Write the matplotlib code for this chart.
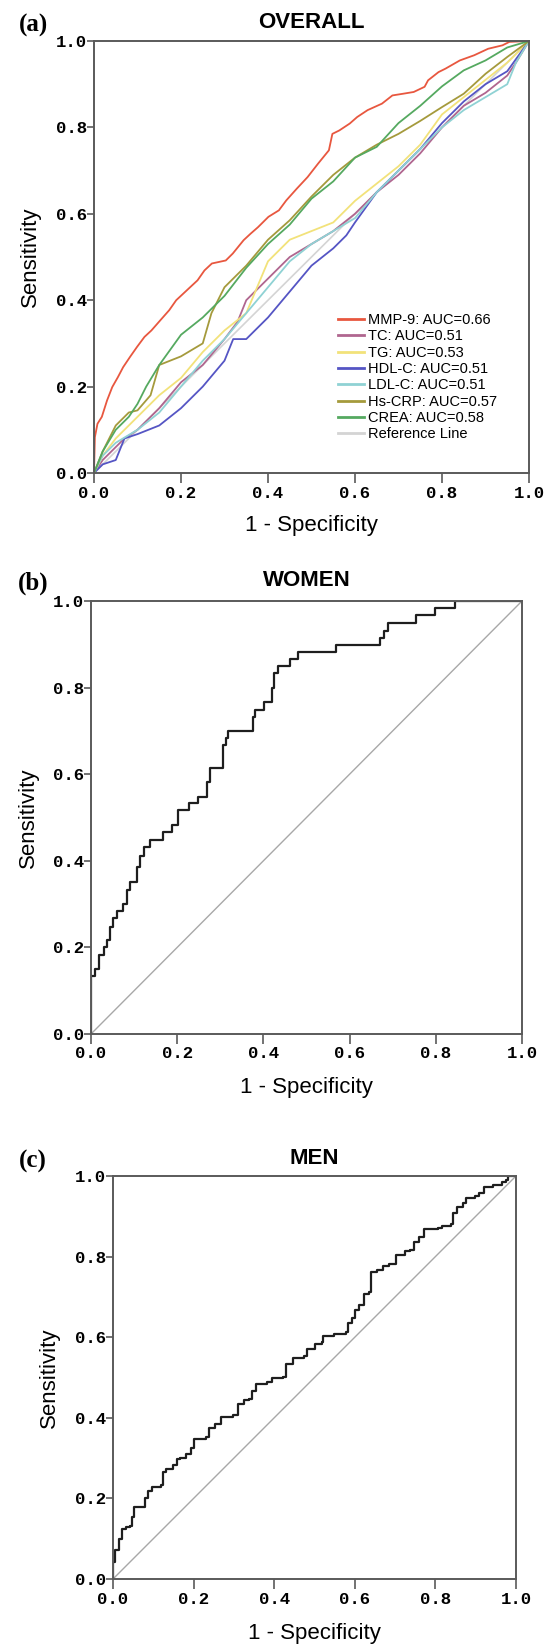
import matplotlib
matplotlib.use("Agg")
import matplotlib.pyplot as plt

# ---- data ----
ticks = [0.0, 0.2, 0.4, 0.6, 0.8, 1.0]
tick_labels = ["0.0", "0.2", "0.4", "0.6", "0.8", "1.0"]

# (a) OVERALL
mmp9_x = [0, .002, .008, .018, .03, .042, .055, .067, .083, .099, .116, .132, .152, .173, .189,
          .205, .222, .238, .254, .271, .303, .319, .344, .36, .377, .401, .425, .442, .466, .491,
          .515, .54, .548, .564, .588, .605, .629, .662, .686, .711, .735, .76, .768, .792, .808,
          .841, .874, .906, .939, .955, 1.0]
mmp9_y = [0, .083, .114, .13, .168, .199, .222, .245, .269, .292, .315, .33, .353, .377, .4,
          .415, .431, .446, .469, .485, .492, .508, .539, .554, .569, .593, .608, .631, .658, .685,
          .716, .747, .785, .793, .809, .824, .84, .855, .874, .878, .882, .894, .909, .928, .936,
          .955, .967, .982, .99, .998, 1.0]

tc_x = [0, .02, .05, .07, .1, .13, .15, .2, .25, .3, .33, .35, .4, .45, .5, .55, .6, .65, .7,
        .75, .8, .85, .9, .95, .97, 1.0]
tc_y = [0, .03, .06, .08, .1, .13, .15, .21, .25, .31, .35, .4, .45, .5, .53, .56, .6, .65, .69,
        .74, .8, .85, .88, .92, .95, 1.0]

tg_x = [0, .02, .05, .1, .12, .15, .2, .25, .3, .35, .4, .45, .5, .55, .57, .6, .65, .7, .75,
        .8, .85, .9, .95, 1.0]
tg_y = [0, .04, .08, .13, .15, .18, .22, .28, .33, .37, .49, .54, .56, .58, .6, .63, .67, .71,
        .76, .83, .87, .91, .95, 1.0]

hdl_x = [0, .02, .05, .07, .1, .15, .2, .25, .3, .32, .35, .4, .45, .5, .55, .58, .6, .65, .7,
         .75, .8, .85, .9, .95, 1.0]
hdl_y = [0, .02, .03, .08, .09, .11, .15, .2, .26, .31, .31, .36, .42, .48, .52, .55, .58, .65,
         .7, .75, .81, .86, .9, .93, 1.0]

ldl_x = [0, .02, .05, .1, .15, .2, .25, .3, .35, .4, .45, .5, .55, .6, .65, .7, .75, .8, .85,
         .9, .95, .97, 1.0]
ldl_y = [0, .04, .07, .1, .14, .2, .26, .31, .37, .43, .49, .53, .56, .59, .65, .7, .75, .8,
         .84, .87, .9, .95, 1.0]

crp_x = [0, .02, .05, .08, .1, .13, .15, .2, .25, .27, .3, .35, .4, .45, .5, .55, .6, .65, .7,
         .75, .8, .85, .9, .95, 1.0]
crp_y = [0, .05, .11, .14, .145, .18, .25, .27, .3, .37, .43, .48, .54, .585, .64, .69, .73,
         .76, .785, .815, .847, .878, .924, .963, 1.0]

crea_x = [0, .02, .05, .08, .1, .12, .15, .2, .25, .3, .35, .4, .45, .5, .55, .6, .65, .7, .75,
          .8, .85, .9, .95, 1.0]
crea_y = [0, .05, .1, .13, .16, .2, .25, .32, .36, .41, .475, .53, .575, .635, .675, .73, .755,
          .81, .85, .895, .932, .955, .985, 1.0]

overall_names = ["MMP-9: AUC=0.66", "TC: AUC=0.51", "TG: AUC=0.53", "HDL-C: AUC=0.51",
                 "LDL-C: AUC=0.51", "Hs-CRP: AUC=0.57", "CREA: AUC=0.58"]
overall_colors = ["#e8573f", "#b0668f", "#f2e27a", "#5555c4", "#8fd2d4", "#a59a3c", "#55a960"]
overall_x = [mmp9_x, tc_x, tg_x, hdl_x, ldl_x, crp_x, crea_x]
overall_y = [mmp9_y, tc_y, tg_y, hdl_y, ldl_y, crp_y, crea_y]

# (b) WOMEN, step vertices (x, level after the jump)
women_x = [0, 0, .01, .018, .031, .037, .045, .05, .061, .075, .083, .091, .106, .114, .122,
           .138, .167, .187, .202, .228, .248, .268, .275, .307, .313, .319, .376, .38, .402,
           .419, .424, .435, .462, .481, .569, .671, .68, .689, .754, .797, .844, 1.0]
women_y = [0, .134, .15, .182, .202, .217, .247, .267, .283, .3, .332, .352, .385, .41, .433,
           .449, .466, .482, .518, .534, .547, .583, .615, .668, .684, .7, .733, .749, .767,
           .798, .834, .85, .866, .883, .899, .915, .931, .95, .968, .984, 1.0, 1.0]

# (c) MEN
men_x = [0, 0, .005, .014, .022, .033, .042, .046, .051, .079, .088, .096, .118, .125, .132,
         .149, .158, .167, .18, .193, .202, .232, .237, .254, .268, .298, .311, .325, .338, .346,
         .355, .382, .395, .421, .43, .447, .474, .482, .5, .518, .522, .548, .579, .583, .592,
         .601, .61, .623, .636, .64, .654, .671, .684, .702, .724, .737, .746, .759, .772, .807,
         .816, .838, .844, .853, .868, .877, .899, .908, .921, .943, .965, .975, .981, 1.0]
men_y = [0, .041, .073, .1, .123, .128, .132, .155, .178, .201, .219, .228, .233, .265, .274,
         .283, .297, .301, .311, .324, .347, .352, .374, .384, .402, .406, .434, .443, .447, .466,
         .484, .489, .498, .502, .534, .548, .553, .571, .584, .589, .603, .607, .612, .635, .648,
         .667, .68, .708, .712, .763, .767, .776, .781, .804, .813, .817, .836, .849, .868, .872,
         .877, .881, .909, .922, .932, .945, .95, .959, .973, .977, .986, .991, 1.0, 1.0]

# ---- figure ----
W, H = 554, 1646
fig = plt.figure(figsize=(W / 100, H / 100), dpi=100)

SANS = "Liberation Sans"
MONO = "Liberation Mono"
SERIF = "Liberation Serif"
SPINE = "#5a5a5a"


def box(left, top, right, bottom):
    return [left / W, 1 - bottom / H, (right - left) / W, (bottom - top) / H]


def txt(x, y, s, **kw):
    fig.text(x / W, 1 - y / H, s, ha="center", va="center", **kw)


def style(ax):
    ax.set_xlim(0, 1)
    ax.set_ylim(0, 1)
    ax.set_xticks(ticks)
    ax.set_yticks(ticks)
    ax.set_xticklabels(tick_labels, family=MONO, weight="bold", fontsize=12.5)
    ax.set_yticklabels(tick_labels, family=MONO, weight="bold", fontsize=12.5)
    ax.tick_params(axis="x", direction="out", length=7.5, width=1.2, color=SPINE, pad=1.5)
    ax.tick_params(axis="y", direction="out", length=5, width=1.2, color=SPINE, pad=0)
    for s in ax.spines.values():
        s.set_color(SPINE)
        s.set_linewidth(1.4)


panels = [
    # axes box, panel letter, title, title y, ylabel x, xlabel y
    ((94, 41, 529, 473), "(a)", "OVERALL", 23, 30, 526),
    ((91, 601, 522, 1034), "(b)", "WOMEN", 581, 28, 1088),
    ((113, 1176, 516, 1579), "(c)", "MEN", 1159, 49, 1633),
]

axes = []
for (l, t, r, b), letter, title, ty, ylx, xly in panels:
    ax = fig.add_axes(box(l, t, r, b))
    style(ax)
    axes.append(ax)
    cx = (l + r) / 2
    txt(33, ty + 2, letter, family=SERIF, weight="bold", fontsize=18)
    txt(cx, ty, title, family=SANS, weight="bold", fontsize=16)
    txt(ylx, (t + b) / 2, "Sensitivity", family=SANS, fontsize=16, rotation=90)
    txt(cx, xly, "1 - Specificity", family=SANS, fontsize=16)

# (a) overall curves
ax = axes[0]
for xs, ys, name, c in zip(overall_x, overall_y, overall_names, overall_colors):
    ax.plot(xs, ys, color=c, lw=1.3, label=name)
ax.plot([0, 1], [0, 1], color="#d4d4d4", lw=1.2, label="Reference Line", zorder=1)
leg = ax.legend(loc="upper left", bbox_to_anchor=(0.56, 0.37), frameon=False,
                prop={"family": SANS, "size": 10.5}, handlelength=1.8, handletextpad=0.3,
                labelspacing=0.16, borderpad=0, borderaxespad=0)
for h in leg.get_lines():
    h.set_linewidth(2)

# (b) women
ax = axes[1]
ax.plot([0, 1], [0, 1], color="#a8a8a8", lw=1.0)
ax.step(women_x, women_y, where="post", color="#1e1e1e", lw=1.6)

# (c) men
ax = axes[2]
ax.plot([0, 1], [0, 1], color="#a8a8a8", lw=1.0)
ax.step(men_x, men_y, where="post", color="#1e1e1e", lw=1.6)

fig.savefig("out.png", dpi=100)
